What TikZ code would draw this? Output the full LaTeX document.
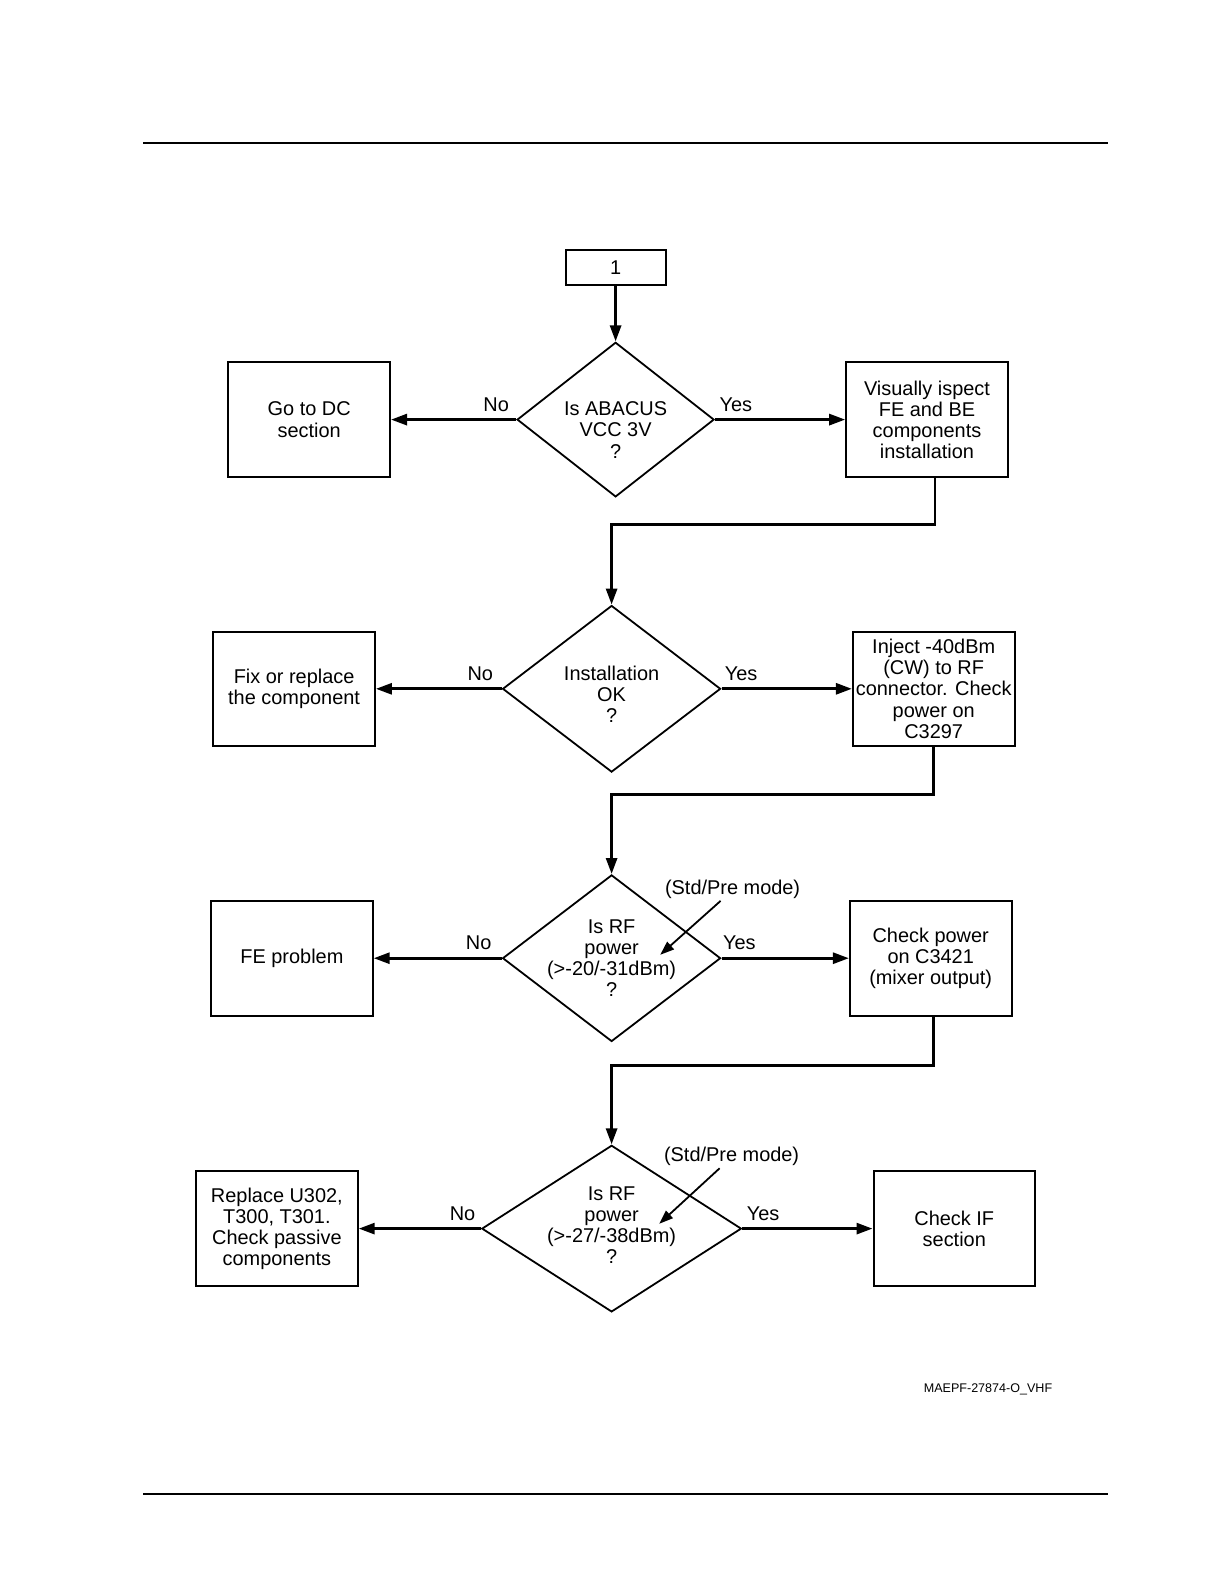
\documentclass[tikz,border=0pt]{standalone}
\usepackage{fontspec}
\setmainfont{Liberation Sans}
\usetikzlibrary{arrows.meta, shapes.geometric, positioning, calc}

\begin{document}
\begin{tikzpicture}[
    node distance=60bp,
    box/.style={rectangle, draw, line width=1bp, minimum width=80.8bp,
                minimum height=57.3bp, inner sep=1pt, align=center,
                font=\fontsize{10}{10.6}\selectfont},
    dia/.style={diamond, draw, line width=0.9bp, inner sep=0pt},
    txt/.style={align=center, inner sep=0pt, font=\fontsize{10}{10.6}\selectfont},
    yn/.style={above, font=\fontsize{10}{12}\selectfont},
    arr/.style={line width=1.4bp, -{Triangle[length=8bp, width=5.5bp]}},
    notearr/.style={line width=0.9bp, -{Triangle[length=7bp, width=5bp]}}
  ]
  \useasboundingbox (0,0) rectangle (612bp,-792bp);

  % Page rules
  \draw[line width=1bp] (71.7bp,-71.7bp) -- (554bp,-71.7bp);
  \draw[line width=1bp] (71.7bp,-747bp) -- (554bp,-747bp);

  % Start
  \node[box, minimum width=50bp, minimum height=17.2bp] (start) at (307.8bp,-133.8bp) {1};

  % Decisions
  \node[dia, minimum width=98.5bp, minimum height=77.3bp, below=27.8bp of start] (d1) {};
  \node[dia, minimum width=109bp, minimum height=83.3bp, below=53.4bp of d1, xshift=-2bp] (d2) {};
  \node[dia, minimum width=109bp, minimum height=83.3bp, below=50.5bp of d2] (d3) {};
  \node[dia, minimum width=129.8bp, minimum height=83.3bp, below=51bp of d3] (d4) {};
  \node[txt] (d1t) at ([yshift=-5.2bp]d1.center) {Is ABACUS\\VCC 3V\\?};
  \node[txt] (d2t) at ([yshift=-2.8bp]d2.center) {Installation\\OK\\?};
  \node[txt] (d3t) at (d3.center) {Is RF\\power\\(>-20/-31dBm)\\?};
  \node[txt] (d4t) at ([yshift=1.6bp]d4.center) {Is RF\\power\\(>-27/-38dBm)\\?};

  % Side boxes
  \node[box, left=62.6bp of d1] (dc) {Go to DC\\section};
  \node[box, right=65.1bp of d1] (vis) {Visually ispect\\FE and BE\\components\\installation};
  \node[box, left=62.9bp of d2] (fix) {Fix or replace\\the component};
  \node[box, right=65.2bp of d2] (inj) {Inject -40dBm\\(CW) to RF\\connector. Check\\power on\\C3297};
  \node[box, left=64bp of d3] (fe) {FE problem};
  \node[box, right=63.7bp of d3] (chk) {Check power\\on C3421\\(mixer output)};
  \node[box, left=61.1bp of d4] (rep) {Replace U302,\\T300, T301.\\Check passive\\components};
  \node[box, right=65.1bp of d4] (cif) {Check IF\\section};

  % Mode notes
  \node[txt] (m3) at ([shift={(60.5bp,34.5bp)}]d3.center) {(Std/Pre mode)};
  \node[txt] (m4) at ([shift={(60bp,36bp)}]d4.center) {(Std/Pre mode)};
  \coordinate (p3) at ([shift={(24.3bp,1.7bp)}]d3.center);
  \coordinate (p4) at ([shift={(23.8bp,2.4bp)}]d4.center);
  \draw[notearr] ([shift={(-6bp,-1bp)}]m3.south) -- (p3);
  \draw[notearr] ([shift={(-6bp,-1bp)}]m4.south) -- (p4);

  % Arrows
  \draw[arr] (start) -- (d1);
  \draw[arr] (d1) -- (dc) node[yn, pos=0.16] {No};
  \draw[arr] (d1) -- (vis) node[yn, pos=0.16] {Yes};
  \draw[arr] ([xshift=4bp]vis.south) -- ++(0,-23.1bp) -| (d2.north);
  \draw[arr] (d2) -- (fix) node[yn, pos=0.17] {No};
  \draw[arr] (d2) -- (inj) node[yn, pos=0.15] {Yes};
  \draw[arr] (inj.south) -- ++(0,-23.7bp) -| (d3.north);
  \draw[arr] (d3) -- (fe) node[yn, pos=0.18] {No};
  \draw[arr] (d3) -- (chk) node[yn, pos=0.14] {Yes};
  \draw[arr] ([xshift=1.5bp]chk.south) -- ++(0,-24.3bp) -| (d4.north);
  \draw[arr] (d4) -- (rep) node[yn, pos=0.15] {No};
  \draw[arr] (d4) -- (cif) node[yn, pos=0.16] {Yes};

  % Footer
  \node[inner sep=0pt, font=\fontsize{6.3}{7}\selectfont] (ref) at (494bp,-694.9bp) {MAEPF-27874-O\_VHF};
\end{tikzpicture}
\end{document}
